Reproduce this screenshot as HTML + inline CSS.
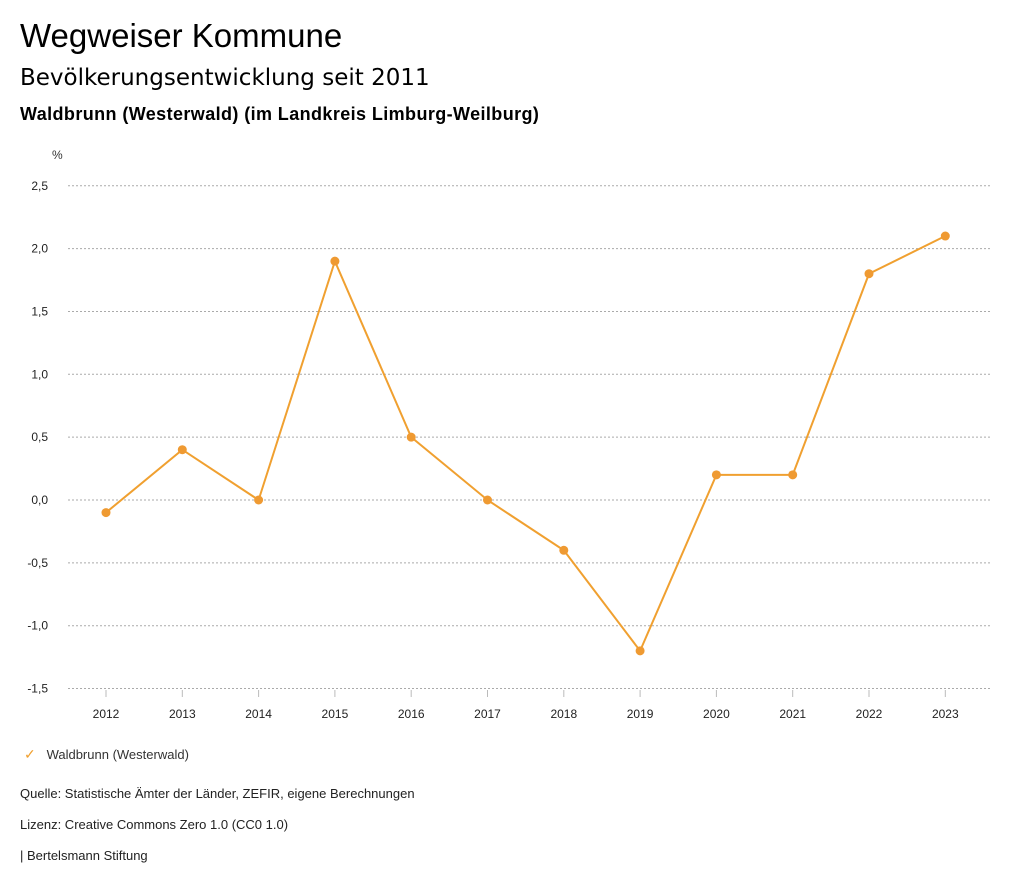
<!DOCTYPE html>
<html><head><meta charset="utf-8"><style>
body{margin:0;width:1024px;height:888px;background:#fff;font-family:"Liberation Sans",sans-serif;color:#000;overflow:hidden;position:relative}
.t{position:absolute;left:20px;white-space:nowrap}
</style></head><body>
<div class="t" style="top:17px;font-size:33px">Wegweiser Kommune</div>
<div class="t" style="top:65px;font-size:23px;font-family:'DejaVu Sans',sans-serif">Bevölkerungsentwicklung seit 2011</div>
<div class="t" style="top:104px;font-size:18px;font-weight:bold;letter-spacing:0.4px">Waldbrunn (Westerwald) (im Landkreis Limburg-Weilburg)</div>
<svg id="chart" width="1024" height="888" style="position:absolute;left:0;top:0" font-family="Liberation Sans, sans-serif"></svg>
<div class="t" style="top:746px;left:24px;font-size:13px;color:#333"><span style="color:#f0a030;font-size:14px">✓</span>&nbsp;&nbsp;&nbsp;Waldbrunn (Westerwald)</div>
<div class="t" style="top:786px;font-size:13px;color:#222">Quelle: Statistische Ämter der Länder, ZEFIR, eigene Berechnungen</div>
<div class="t" style="top:817px;font-size:13px;color:#222">Lizenz: Creative Commons Zero 1.0 (CC0 1.0)</div>
<div class="t" style="top:848px;font-size:13px;color:#222">| Bertelsmann Stiftung</div>
<script>
const years=[2012,2013,2014,2015,2016,2017,2018,2019,2020,2021,2022,2023];
const values=[-0.1,0.4,0.0,1.9,0.5,0.0,-0.4,-1.2,0.2,0.2,1.8,2.1];
const yTicks=[2.5,2.0,1.5,1.0,0.5,0.0,-0.5,-1.0,-1.5];
const NS="http://www.w3.org/2000/svg";
const svg=document.getElementById('chart');
const y=v=>500-v*125.7;
const x=i=>106+i*76.3;
function mk(t,a){const e=document.createElementNS(NS,t);for(const k in a)e.setAttribute(k,a[k]);svg.appendChild(e);return e;}
let u=mk('text',{x:52,y:159,'font-size':12,fill:'#333'});u.textContent='%';


yTicks.forEach(v=>{
 const g=mk('line',{x1:68,x2:990,y1:y(v),y2:y(v),stroke:'#aaa','stroke-dasharray':'2,2','stroke-width':1});
 
 
 const t=mk('text',{x:48,y:y(v)+4,'font-size':12,'text-anchor':'end',fill:'#222'});
 t.textContent=v.toFixed(1).replace('.',',');
 
 
});
years.forEach((yr,i)=>{
 const l=mk('line',{x1:x(i),x2:x(i),y1:690,y2:697,stroke:'#bbb'});
 
 
 const t=mk('text',{x:x(i),y:718,'font-size':12,'text-anchor':'middle',fill:'#222'});
 t.textContent=yr;
 
 
});
const p=mk('polyline',{points:values.map((v,i)=>x(i)+','+y(v)).join(' '),fill:'none',stroke:'#f0a030','stroke-width':2});


values.forEach((v,i)=>{
 const c=mk('circle',{cx:x(i),cy:y(v),r:4.5,fill:'#ef9a32'});
 
 
});
</script>
</body></html>
